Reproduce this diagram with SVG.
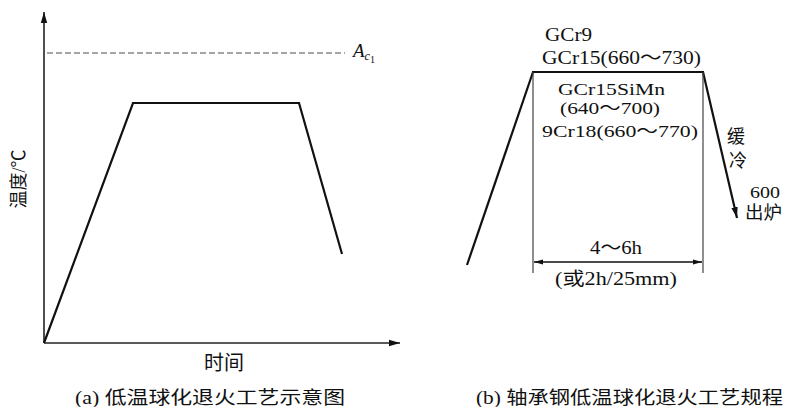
<svg xmlns="http://www.w3.org/2000/svg" width="787" height="407" viewBox="0 0 787 407">
<style>
.ser{font-family:"Liberation Serif","Noto Sans CJK SC",serif;fill:#111}
.cjk{font-family:"Liberation Serif","Noto Sans CJK SC",sans-serif;fill:#111}
.ax{stroke:#222;stroke-width:1.6;fill:none}
.curve{stroke:#111;stroke-width:2.2;fill:none;stroke-linejoin:miter}
.thin{stroke:#444;stroke-width:1.2;fill:none}
</style>
<defs>
<marker id="arr" markerUnits="userSpaceOnUse" markerWidth="12" markerHeight="8" refX="11" refY="4" orient="auto">
<path d="M0,0.8 L11,4 L0,7.2 Z" fill="#111"/>
</marker>
<marker id="arrs" markerUnits="userSpaceOnUse" markerWidth="10" markerHeight="6" refX="9" refY="3" orient="auto-start-reverse">
<path d="M0,0.5 L9,3 L0,5.5 Z" fill="#111"/>
</marker>
</defs>
<rect width="787" height="407" fill="#fff"/>

<g id="chart-a">
  <g id="axes-a">
    <line class="ax" x1="44" y1="343" x2="44" y2="12" marker-end="url(#arr)"/>
    <line class="ax" x1="44" y1="343" x2="400" y2="343" marker-end="url(#arr)"/>
  </g>
  <g id="ac1-line">
    <line x1="47" y1="53" x2="345" y2="53" stroke="#888" stroke-width="1.6" stroke-dasharray="6,3"/>
    <text class="ser" x="353" y="57" font-size="19" font-style="italic">A<tspan font-size="12" dy="3">c</tspan><tspan font-size="10" dy="3" font-style="normal">1</tspan></text>
  </g>
  <g id="curve-a">
    <polyline class="curve" points="44,343 133,103 299,103 342,254"/>
  </g>
  <text id="ylabel-a" class="cjk" font-size="18" text-anchor="middle" transform="translate(25,179) rotate(-90)">温度/℃</text>
  <text id="xlabel-a" class="cjk" font-size="20" x="224" y="370" text-anchor="middle">时间</text>
  <text id="caption-a" class="cjk" font-size="18" x="75" y="404" textLength="270" lengthAdjust="spacingAndGlyphs">(a) 低温球化退火工艺示意图</text>
</g>

<g id="chart-b">
  <g id="connectors">
    <line class="curve" x1="467" y1="265" x2="533" y2="72"/>
    <line class="curve" x1="532" y1="72" x2="704" y2="72"/>
    <line class="curve" x1="703" y1="72" x2="737" y2="218" marker-end="url(#arr)"/>
    <line class="thin" x1="533" y1="72" x2="533" y2="273"/>
    <line class="thin" x1="703" y1="72" x2="703" y2="273"/>
    <line stroke="#111" stroke-width="1.4" x1="534" y1="262" x2="702" y2="262" marker-start="url(#arrs)" marker-end="url(#arrs)"/>
  </g>
  <g id="labels-b">
    <text class="ser" font-size="18" x="545" y="41" textLength="47" lengthAdjust="spacingAndGlyphs">GCr9</text>
    <text class="ser" font-size="18" x="542" y="64" textLength="159" lengthAdjust="spacingAndGlyphs">GCr15(660～730)</text>
    <text class="ser" font-size="17" x="558" y="95" textLength="107" lengthAdjust="spacingAndGlyphs">GCr15SiMn</text>
    <text class="ser" font-size="17" x="560" y="114" textLength="100" lengthAdjust="spacingAndGlyphs">(640～700)</text>
    <text class="ser" font-size="17" x="542" y="137" textLength="156" lengthAdjust="spacingAndGlyphs">9Cr18(660～770)</text>
    <text class="cjk" font-size="18" x="736" y="143" text-anchor="middle">缓</text>
    <text class="cjk" font-size="18" x="738" y="167" text-anchor="middle">冷</text>
    <text class="ser" font-size="17" x="750" y="198" textLength="30" lengthAdjust="spacingAndGlyphs">600</text>
    <text class="cjk" font-size="18" x="745" y="219" textLength="37" lengthAdjust="spacingAndGlyphs">出炉</text>
    <text class="ser" font-size="18" x="590" y="254" textLength="52" lengthAdjust="spacingAndGlyphs">4～6h</text>
    <text class="cjk" font-size="18" x="555" y="285" textLength="122" lengthAdjust="spacingAndGlyphs">(或2h/25mm)</text>
  </g>
  <text id="caption-b" class="cjk" font-size="18" x="476" y="404" textLength="307" lengthAdjust="spacingAndGlyphs">(b) 轴承钢低温球化退火工艺规程</text>
</g>
</svg>
